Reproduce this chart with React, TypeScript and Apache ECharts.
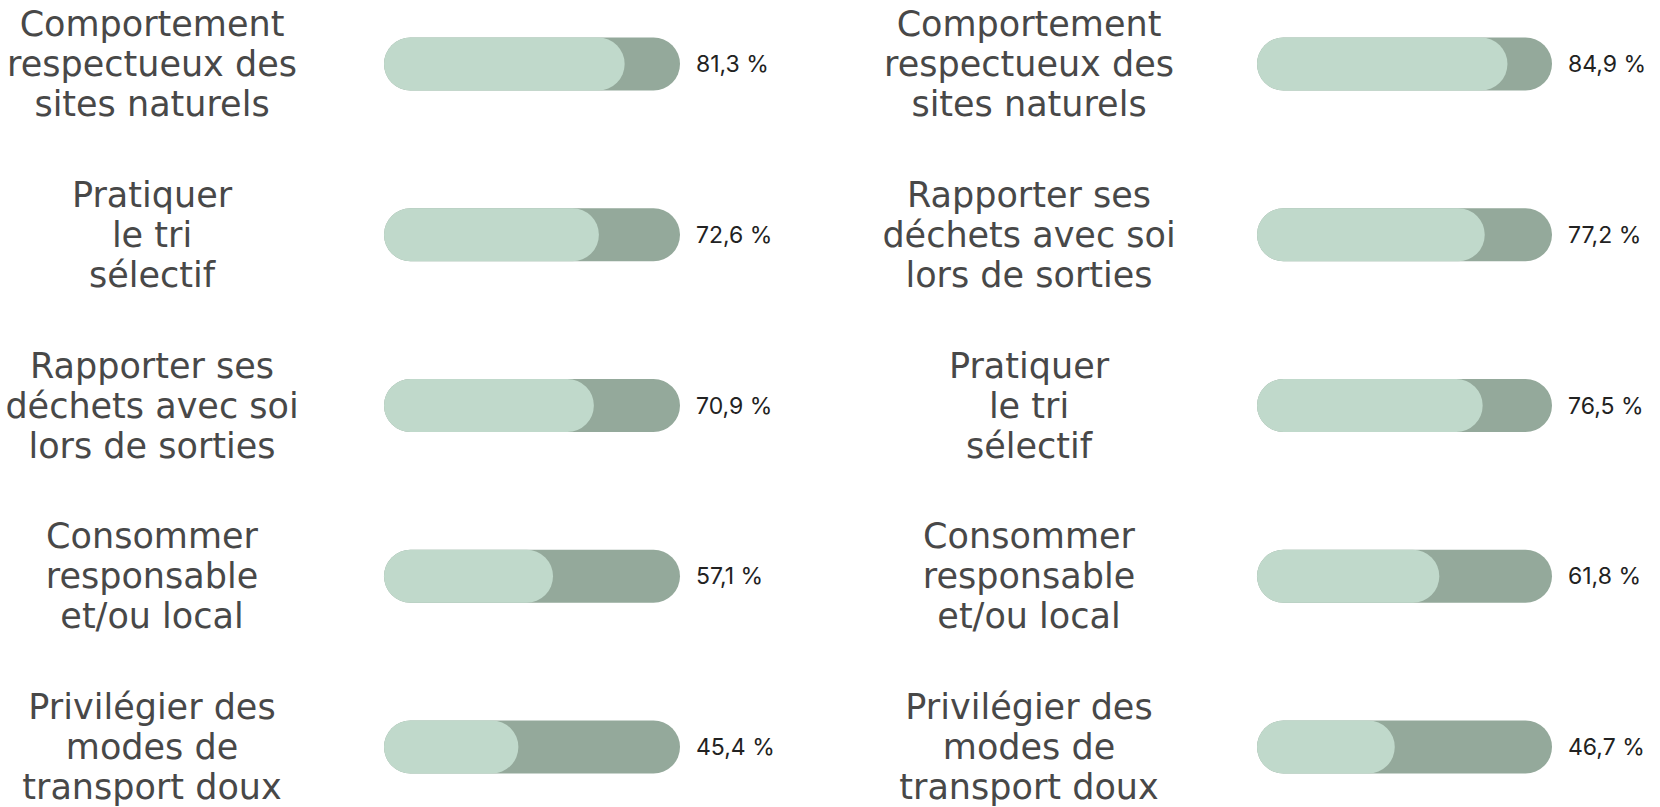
import React, { useEffect, useRef } from "react";
import * as echarts from "echarts";

const leftCategories = [
  "Comportement\nrespectueux des\nsites naturels",
  "Pratiquer\nle tri\nsélectif",
  "Rapporter ses\ndéchets avec soi\nlors de sorties",
  "Consommer\nresponsable\net/ou local",
  "Privilégier des\nmodes de\ntransport doux",
];
const leftValues = [81.3, 72.6, 70.9, 57.1, 45.4];

const rightCategories = [
  "Comportement\nrespectueux des\nsites naturels",
  "Rapporter ses\ndéchets avec soi\nlors de sorties",
  "Pratiquer\nle tri\nsélectif",
  "Consommer\nresponsable\net/ou local",
  "Privilégier des\nmodes de\ntransport doux",
];
const rightValues = [84.9, 77.2, 76.5, 61.8, 46.7];

const trackMax = 100;

const LIGHT = "#c0d9cb";
const DARK = "#94a99b";
const LABEL_FONT = "'DejaVu Sans', Inter, sans-serif";
const VALUE_FONT = "Inter, 'Open Sans', sans-serif";

const fmt = (v: number) => v.toFixed(1).replace(".", ",") + " %";

export default function App() {
  const ref = useRef<HTMLDivElement>(null);

  useEffect(() => {
    if (!ref.current) return;
    const chart = echarts.init(ref.current, undefined, { renderer: "svg" });

    const panels = [
      { cats: leftCategories, vals: leftValues, left: 384, width: 296, margin: 232 },
      { cats: rightCategories, vals: rightValues, left: 1257, width: 295, margin: 228 },
    ];

    const grid: any[] = [];
    const xAxis: any[] = [];
    const yAxis: any[] = [];
    const series: any[] = [];

    panels.forEach((p, i) => {
      grid.push({ left: p.left, width: p.width, top: 64, height: 687, containLabel: false });
      xAxis.push({
        type: "value",
        gridIndex: i,
        min: 0,
        max: trackMax,
        show: false,
      });
      yAxis.push({
        type: "category",
        gridIndex: i,
        data: p.cats,
        inverse: true,
        boundaryGap: false,
        axisLine: { show: false },
        axisTick: { show: false },
        splitLine: { show: false },
        axisLabel: {
          margin: p.margin,
          align: "center",
          fontFamily: LABEL_FONT,
          fontSize: 35,
          lineHeight: 40,
          color: "#484848",
        },
      });
      series.push({
        type: "bar",
        xAxisIndex: i,
        yAxisIndex: i,
        barWidth: 53,
        barGap: "-100%",
        data: p.vals.map(() => trackMax),
        itemStyle: { color: DARK, borderRadius: 26.5 },
        label: {
          show: true,
          position: "right",
          distance: 16,
          fontFamily: VALUE_FONT,
          fontSize: 23,
          color: "#222222",
          formatter: (q: any) => fmt(p.vals[q.dataIndex]),
        },
        silent: true,
        z: 1,
      });
      series.push({
        type: "bar",
        xAxisIndex: i,
        yAxisIndex: i,
        barWidth: 53,
        barGap: "-100%",
        data: p.vals,
        itemStyle: { color: LIGHT, borderRadius: 26.5 },
        silent: true,
        z: 2,
      });
    });

    chart.setOption({
      animation: false,
      backgroundColor: "#ffffff",
      grid,
      xAxis,
      yAxis,
      series,
    });

    return () => chart.dispose();
  }, []);

  return (
    <div
      ref={ref}
      style={{ position: "fixed", left: 0, top: 0, width: 1660, height: 807 }}
    />
  );
}
